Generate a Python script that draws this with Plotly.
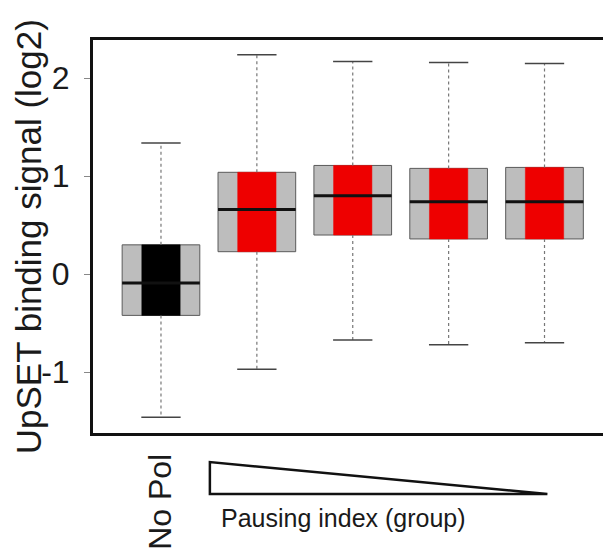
import plotly.graph_objects as go

# ---- data ----
groups = ["No Pol", "G1", "G2", "G3", "G4"]
positions = [1, 2, 3, 4, 5]
q1 = [-0.42, 0.23, 0.40, 0.36, 0.36]
median = [-0.09, 0.66, 0.80, 0.74, 0.74]
q3 = [0.30, 1.04, 1.11, 1.08, 1.09]
lower_whisker = [-1.46, -0.97, -0.67, -0.72, -0.70]
upper_whisker = [1.34, 2.24, 2.17, 2.16, 2.15]
inner_colors = ["#000000", "#ee0000", "#ee0000", "#ee0000", "#ee0000"]
y_ticks = [-1, 0, 1, 2]
y_ticktext = ["-1", "0", "1", "2"]

BOX_W = 0.81
INNER_W = 0.40
CAP_W = 0.41
FONT = "Liberation Sans, Arial, sans-serif"

fig = go.Figure()

# gray outer boxes (Q1-Q3)
fig.add_trace(go.Box(
    x=positions, q1=q1, median=median, q3=q3,
    lowerfence=q1, upperfence=q3,
    width=BOX_W, whiskerwidth=0, boxpoints=False,
    fillcolor="#bdbdbd", line=dict(color="#5a5a5a", width=1),
    hoverinfo="skip", showlegend=False,
))

# inner coloured boxes
for color in ["#000000", "#ee0000"]:
    idx = [i for i, c in enumerate(inner_colors) if c == color]
    fig.add_trace(go.Box(
        x=[positions[i] for i in idx],
        q1=[q1[i] for i in idx], median=[median[i] for i in idx], q3=[q3[i] for i in idx],
        lowerfence=[q1[i] for i in idx], upperfence=[q3[i] for i in idx],
        width=INNER_W, whiskerwidth=0, boxpoints=False,
        fillcolor=color, line=dict(color=color, width=0.5),
        hoverinfo="skip", showlegend=False,
    ))

# dotted whiskers
wx, wy = [], []
for p, a, b, lo, hi in zip(positions, q1, q3, lower_whisker, upper_whisker):
    wx += [p, p, None, p, p, None]
    wy += [b, hi, None, a, lo, None]
fig.add_trace(go.Scatter(x=wx, y=wy, mode="lines",
                         line=dict(color="#777777", width=1.2, dash="dot"),
                         hoverinfo="skip", showlegend=False))

# whisker caps
cx, cy = [], []
for p, lo, hi in zip(positions, lower_whisker, upper_whisker):
    cx += [p - CAP_W / 2, p + CAP_W / 2, None, p - CAP_W / 2, p + CAP_W / 2, None]
    cy += [hi, hi, None, lo, lo, None]
fig.add_trace(go.Scatter(x=cx, y=cy, mode="lines",
                         line=dict(color="#444444", width=1.5),
                         hoverinfo="skip", showlegend=False))

# median lines
mx, my = [], []
for p, m in zip(positions, median):
    mx += [p - BOX_W / 2, p + BOX_W / 2, None]
    my += [m, m, None]
fig.add_trace(go.Scatter(x=mx, y=my, mode="lines",
                         line=dict(color="#111111", width=3),
                         hoverinfo="skip", showlegend=False))

# decreasing-pausing-index triangle below the axis
fig.add_shape(type="path", xref="x", yref="paper",
              path="M 1.51,-0.074 L 1.51,-0.155 L 5.03,-0.155 Z",
              line=dict(color="#111111", width=2.5), fillcolor="white",
              layer="above")

fig.add_annotation(text="Pausing index (group)", xref="x", yref="paper",
                   x=1.61, y=-0.216, xanchor="left", yanchor="middle",
                   showarrow=False, font=dict(family=FONT, size=25, color="#1a1a1a"))

fig.add_annotation(text="UpSET binding signal (log2)", xref="paper", yref="paper",
                   x=-0.126, y=0.5, xanchor="center", yanchor="middle",
                   textangle=-90, showarrow=False,
                   font=dict(family=FONT, size=35, color="#1a1a1a"))

fig.update_layout(
    width=603, height=555,
    margin=dict(l=93, r=0, t=40, b=122),
    paper_bgcolor="white", plot_bgcolor="white",
    font=dict(family=FONT, color="#1a1a1a"),
    xaxis=dict(range=[0.291, 5.61], showline=True, mirror=True,
               linecolor="#111111", linewidth=3,
               tickvals=[1], ticktext=["No Pol"], tickangle=-90,
               ticks="", ticklabelstandoff=5,
               tickfont=dict(family=FONT, size=32, color="#1a1a1a"),
               showgrid=False, zeroline=False, fixedrange=True),
    yaxis=dict(range=[-1.62, 2.39], showline=True, mirror=False,
               linecolor="#111111", linewidth=3,
               tickvals=y_ticks, ticktext=y_ticktext,
               ticks="outside", ticklen=6, tickcolor="#888888", tickwidth=1,
               ticklabelstandoff=8,
               tickfont=dict(family=FONT, size=32, color="#1a1a1a"),
               showgrid=False, zeroline=False, fixedrange=True),
)

fig.write_html("out.html")
